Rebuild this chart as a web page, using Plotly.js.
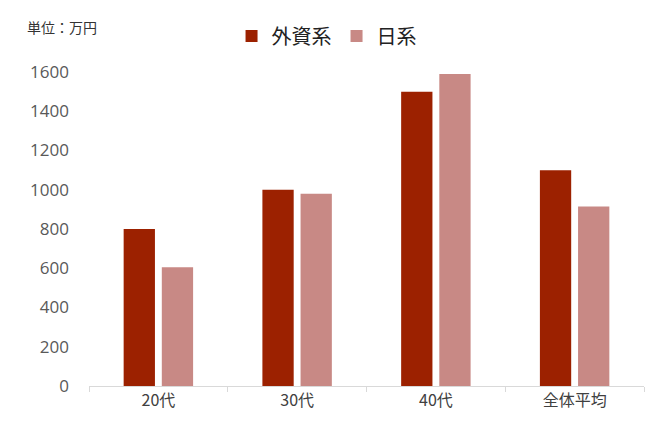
<!DOCTYPE html>
<html><head><meta charset="utf-8">
<script src="https://cdn.plot.ly/plotly-3.0.1.min.js"></script>
<style>body{margin:0;background:#fff}#c{width:660px;height:440px}</style>
</head><body><div id="c"></div>
<script>
const categories = ["20代", "30代", "40代", "全体平均"];
const foreignValues = [800, 1000, 1500, 1100];
const japaneseValues = [605, 980, 1590, 915];
const seriesNames = ["外資系", "日系"];
const yTicks = [0, 200, 400, 600, 800, 1000, 1200, 1400, 1600];
const unitLabel = "単位：万円";

const font = "'Noto Sans CJK JP', 'Noto Sans', sans-serif";
const data = [
  {type: "bar", name: seriesNames[0], x: categories, y: foreignValues, marker: {color: "#9C2100"}},
  {type: "bar", name: seriesNames[1], x: categories, y: japaneseValues, marker: {color: "#C88985"}}
];
const layout = {
  width: 660, height: 440,
  margin: {l: 89, r: 16, t: 72, b: 54, autoexpand: false},
  paper_bgcolor: "#fff", plot_bgcolor: "#fff",
  font: {family: font, color: "#595959"},
  barmode: "group", bargap: 0.45, bargroupgap: 0.18,
  showlegend: true,
  legend: {orientation: "h", x: 0.428, xanchor: "center", y: 1.115, yanchor: "middle",
           font: {size: 20, color: "#222"}, itemwidth: 30, traceorder: "normal"},
  xaxis: {type: "category", showgrid: false, showline: true, linecolor: "#d9d9d9", linewidth: 1,
          ticks: "outside", tickson: "boundaries", ticklen: 5, tickcolor: "#d9d9d9",
          tickfont: {size: 16, color: "#404040"}, zeroline: false},
  yaxis: {range: [0, 1600], tickvals: yTicks, showgrid: false, zeroline: false, showline: false,
          tickfont: {size: 17, color: "#595959", family: "'Open Sans', 'Noto Sans', sans-serif"},
          ticklabelstandoff: 19},
  annotations: [{text: unitLabel, xref: "paper", yref: "paper", x: -0.115, y: 1.143,
                 xanchor: "left", yanchor: "middle", showarrow: false,
                 font: {size: 14, color: "#333"}}]
};
Plotly.newPlot("c", data, layout, {staticPlot: true});
</script></body></html>
